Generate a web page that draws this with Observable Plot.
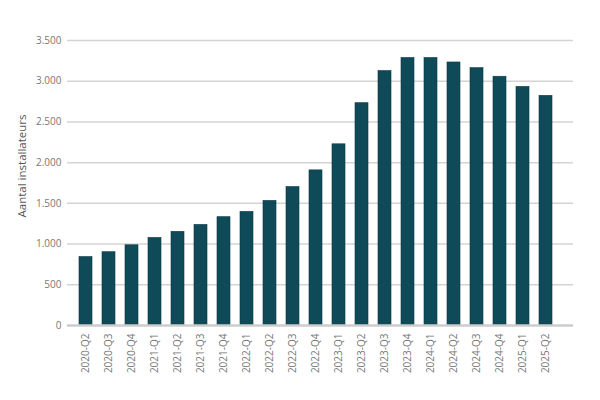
<!DOCTYPE html>
<html>
<head>
<meta charset="utf-8">
<script src="https://cdn.jsdelivr.net/npm/d3@7"></script>
<script src="https://cdn.jsdelivr.net/npm/@observablehq/plot@0.6"></script>
<style>
  html, body { margin: 0; padding: 0; background: #fff; }
  #chart { width: 600px; height: 400px; }
</style>
</head>
<body>
<div id="chart"></div>
<script>
const quarters = ["2020-Q2","2020-Q3","2020-Q4","2021-Q1","2021-Q2","2021-Q3","2021-Q4","2022-Q1","2022-Q2","2022-Q3","2022-Q4","2023-Q1","2023-Q2","2023-Q3","2023-Q4","2024-Q1","2024-Q2","2024-Q3","2024-Q4","2025-Q1","2025-Q2"];
const installers = [840, 900, 985, 1075, 1150, 1235, 1330, 1395, 1530, 1700, 1905, 2225, 2730, 3125, 3285, 3285, 3230, 3160, 3055, 2930, 2820];
const yTicks = [0, 500, 1000, 1500, 2000, 2500, 3000, 3500];
const yLabel = "Aantal installateurs";

const data = quarters.map((q, i) => ({quarter: q, value: installers[i]}));
const fmt = d => d3.format(",")(d).replace(/,/g, ".");

const chart = Plot.plot({
  width: 600,
  height: 400,
  marginLeft: 72,
  marginRight: 41,
  marginTop: 40,
  marginBottom: 75,
  style: {fontFamily: "'Open Sans', sans-serif", fontSize: "10px", color: "#777", background: "#fff"},
  x: {domain: quarters, paddingInner: 0.44, paddingOuter: 0, label: null},
  y: {domain: [0, 3500], label: null},
  marks: [
    Plot.ruleY(yTicks.filter(d => d > 0), {stroke: "#d4d4d4", strokeWidth: 1.5, insetLeft: -5, insetRight: -14}),
    Plot.barY(data, {x: "quarter", y: "value", fill: "#0f4a59", stroke: "#0a3844", strokeWidth: 0.6}),
    Plot.ruleY([0], {stroke: "#cccccc", strokeWidth: 2.5, insetLeft: -5, insetRight: -14}),
    Plot.axisY({ticks: yTicks, tickSize: 0, tickPadding: 11, tickFormat: fmt, label: null, fill: "#777"}),
    Plot.axisX({tickSize: 0, tickPadding: 8, tickRotate: -90, label: null, fill: "#777"}),
    Plot.text([yLabel], {frameAnchor: "left", textAnchor: "middle", rotate: -90, dx: -50, dy: -17, fontSize: 11.5, fill: "#555"})
  ]
});
document.getElementById("chart").append(chart);
</script>
</body>
</html>
